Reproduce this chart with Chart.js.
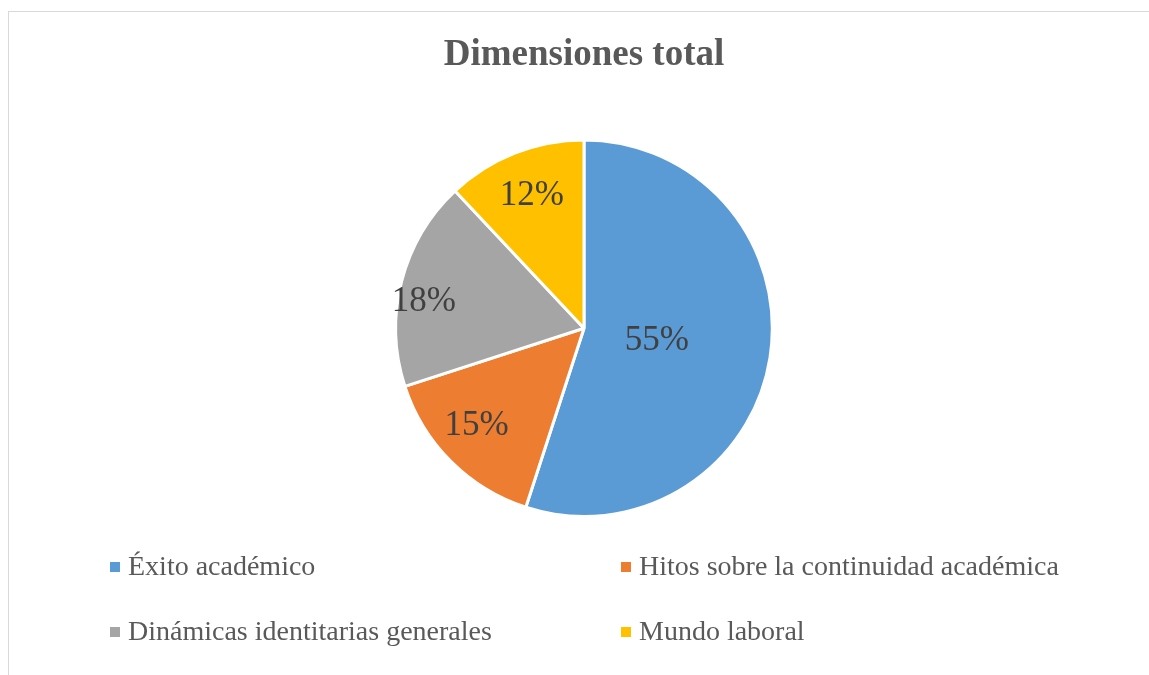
<!DOCTYPE html>
<html>
<head>
<meta charset="utf-8">
<script src="https://cdn.jsdelivr.net/npm/chart.js@4/dist/chart.umd.min.js"></script>
<style>
  html, body { margin: 0; padding: 0; background: #fff; }
  #wrap { position: relative; width: 1149px; height: 675px; overflow: hidden; }
  #frame { position: absolute; left: 8px; top: 11px; width: 1200px; height: 700px; border-left: 1px solid #d9d9d9; border-top: 1px solid #d9d9d9; }
  canvas { position: absolute; left: 0; top: 0; }
</style>
</head>
<body>
<div id="wrap">
  <div id="frame"></div>
  <canvas id="c" width="1149" height="675"></canvas>
</div>
<script>
const titleText = "Dimensiones total";
const categories = ["Éxito académico", "Hitos sobre la continuidad académica", "Dinámicas identitarias generales", "Mundo laboral"];
const values = [55, 15, 18, 12];
const colors = ["#5b9bd5", "#ed7d31", "#a5a5a5", "#ffc000"];

const serif = "'Liberation Serif', 'Times New Roman', serif";

const labelPlugin = {
  id: 'pieLabels',
  afterDatasetsDraw(chart) {
    const ctx = chart.ctx;
    const meta = chart.getDatasetMeta(0);
    const total = chart.data.datasets[0].data.reduce((a, b) => a + b, 0);
    const frac = [0.39, 0.76, 0.865, 0.77];
    const shiftDeg = [-1.2, 3.7, -4.1, 0.5];
    ctx.save();
    ctx.font = "35px " + serif;
    ctx.fillStyle = "#404040";
    ctx.textAlign = "center";
    ctx.textBaseline = "middle";
    meta.data.forEach((arc, i) => {
      const p = arc.getProps(['x', 'y', 'startAngle', 'endAngle', 'outerRadius'], true);
      const mid = (p.startAngle + p.endAngle) / 2 + shiftDeg[i] * Math.PI / 180;
      const r = p.outerRadius * frac[i];
      const x = p.x + Math.cos(mid) * r;
      const y = p.y + Math.sin(mid) * r;
      const v = chart.data.datasets[0].data[i];
      ctx.fillText(Math.round(v / total * 100) + "%", x, y + 3);
    });
    ctx.restore();
  }
};

const legendPlugin = {
  id: 'gridLegend',
  afterDraw(chart) {
    const ctx = chart.ctx;
    const labels = chart.data.labels;
    const bg = chart.data.datasets[0].backgroundColor;
    const colX = [110, 621];
    const rowY = [567, 632];
    ctx.save();
    ctx.font = "28px " + serif;
    ctx.textBaseline = "middle";
    ctx.textAlign = "left";
    labels.forEach((lab, i) => {
      const x = colX[i % 2];
      const y = rowY[Math.floor(i / 2)];
      ctx.fillStyle = bg[i];
      ctx.fillRect(x, y - 5, 10, 10);
      ctx.fillStyle = "#595959";
      ctx.fillText(lab, x + 18, y + 1);
    });
    ctx.restore();
  }
};

new Chart(document.getElementById('c'), {
  type: 'pie',
  data: {
    labels: categories,
    datasets: [{
      data: values,
      backgroundColor: colors,
      borderColor: "#ffffff",
      borderWidth: 3
    }]
  },
  options: {
    responsive: false,
    animation: false,
    rotation: 0,
    layout: { padding: { left: 300, right: 281, top: 0, bottom: 157 } },
    plugins: {
      legend: { display: false },
      tooltip: { enabled: false },
      title: {
        display: true,
        text: titleText,
        color: "#595959",
        font: { family: serif, size: 37, weight: 'bold' },
        padding: { top: 33, bottom: 61 }
      }
    }
  },
  plugins: [labelPlugin, legendPlugin]
});
</script>
</body>
</html>
